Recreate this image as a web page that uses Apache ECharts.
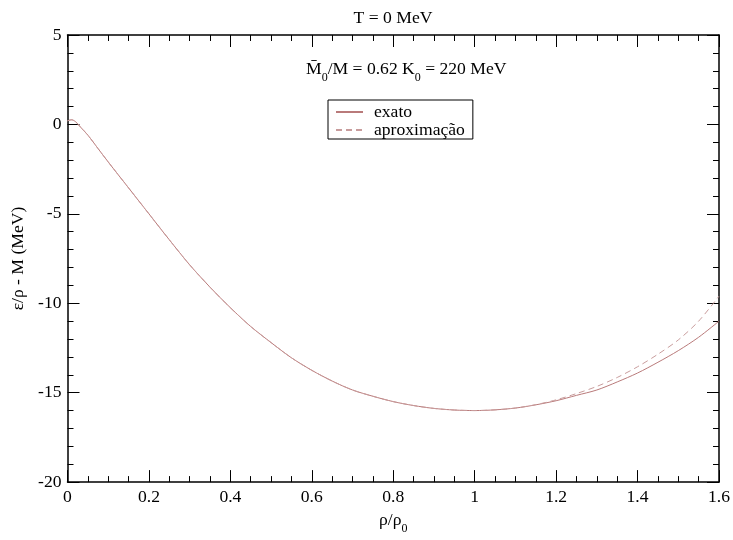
<!DOCTYPE html>
<html>
<head>
<meta charset="utf-8">
<script src="https://cdn.jsdelivr.net/npm/echarts@6/dist/echarts.min.js"></script>
<style>html,body{margin:0;padding:0;background:#fff}#c{width:733px;height:540px}</style>
</head>
<body>
<div id="c"></div>
<script>
const xs =     [0, 0.01, 0.02, 0.03, 0.05, 0.075, 0.1, 0.15, 0.2, 0.25, 0.3, 0.35, 0.4, 0.45, 0.5, 0.55, 0.6, 0.65, 0.7, 0.75, 0.8, 0.85, 0.9, 0.95, 1.0, 1.05, 1.1, 1.15, 1.2, 1.25, 1.3, 1.35, 1.4, 1.45, 1.5, 1.55, 1.6];
const exato =  [0.2, 0.26, 0.15, -0.1, -0.6, -1.35, -2.1, -3.55, -5.0, -6.45, -7.85, -9.1, -10.25, -11.3, -12.2, -13.05, -13.75, -14.35, -14.85, -15.2, -15.5, -15.72, -15.88, -15.97, -16.0, -15.96, -15.86, -15.68, -15.45, -15.15, -14.85, -14.4, -13.9, -13.3, -12.65, -11.9, -11.0];
const aprox =  [0.2, 0.26, 0.15, -0.1, -0.6, -1.35, -2.1, -3.55, -5.0, -6.45, -7.85, -9.1, -10.25, -11.3, -12.2, -13.05, -13.75, -14.35, -14.85, -15.2, -15.5, -15.72, -15.88, -15.97, -16.0, -15.96, -15.86, -15.67, -15.4, -15.05, -14.65, -14.15, -13.55, -12.85, -12.05, -11.0, -9.6];
const seriesNames = ['exato', 'aproximação'];
const xTicks = {min: 0, max: 1.6, interval: 0.2};
const yTicks = {min: -20, max: 5, interval: 5};

const F = 'Liberation Serif';
const FS = 17.6;
const chart = echarts.init(document.getElementById('c'), null, {renderer: 'canvas'});
const axisCommon = {
  axisLine: {show: true, onZero: false, lineStyle: {color: '#000', width: 1.5}},
  axisTick: {show: true, inside: true, length: 12, lineStyle: {color: '#000', width: 1}},
  minorTick: {show: true, length: 6, lineStyle: {color: '#000', width: 1}},
  splitLine: {show: false},
  minorSplitLine: {show: false}
};
function xAx(pos, labels) {
  return Object.assign({}, axisCommon, {
    type: 'value', position: pos, min: xTicks.min, max: xTicks.max, interval: xTicks.interval,
    minorTick: Object.assign({}, axisCommon.minorTick, {splitNumber: 4}),
    axisLabel: {show: labels, fontFamily: F, fontSize: FS, color: '#000', margin: 6},
    name: labels ? 'ρ/ρ{s|0}' : '', nameLocation: 'middle', nameGap: 22,
    nameTextStyle: {fontFamily: F, fontSize: FS, color: '#000', rich: {s: {fontFamily: F, fontSize: 12, verticalAlign: 'bottom', lineHeight: 8, padding: [0,0,-6,0]}}}
  });
}
function yAx(pos, labels) {
  return Object.assign({}, axisCommon, {
    type: 'value', position: pos, min: yTicks.min, max: yTicks.max, interval: yTicks.interval,
    minorTick: Object.assign({}, axisCommon.minorTick, {splitNumber: 5}),
    axisLabel: {show: labels, fontFamily: F, fontSize: FS, color: '#000', margin: 6},
    name: labels ? 'ε/ρ - M (MeV)' : '', nameLocation: 'middle', nameGap: 40,
    nameTextStyle: {fontFamily: F, fontSize: FS, color: '#000'}
  });
}
const option = {
  animation: false,
  backgroundColor: '#fff',
  grid: {left: 67.5, right: 12, top: 35, bottom: 48},
  xAxis: [xAx('bottom', true), xAx('top', false)],
  yAxis: [yAx('left', true), yAx('right', false)],
  legend: {
    orient: 'vertical', left: 328, top: 100,
    data: seriesNames,
    borderColor: '#000', borderWidth: 1, borderRadius: 0,
    padding: [3, 8, 0, 7], itemGap: 0, itemWidth: 27, itemHeight: 14,
    itemStyle: {opacity: 0},
    textStyle: {fontFamily: F, fontSize: FS, color: '#000', lineHeight: 18, padding: [0, 0, 0, 6]}
  },
  graphic: [
    {type: 'text', x: 393, y: 18, style: {text: 'T = 0 MeV', fontFamily: F, fontSize: FS, fill: '#000', align: 'center', verticalAlign: 'middle'}},
    {type: 'text', x: 306, y: 69, style: {
      text: 'M\u0304{s|0}/M = 0.62 K{s|0} = 220 MeV', fontFamily: F, fontSize: FS, fill: '#000', align: 'left', verticalAlign: 'middle',
      rich: {s: {fontFamily: F, fontSize: 12, verticalAlign: 'bottom', lineHeight: 8, padding: [0,0,-6,0]}}
    }}
  ],
  series: [
    {name: seriesNames[0], type: 'line', xAxisIndex: 0, yAxisIndex: 0, symbol: 'none', smooth: 0.3,
     data: xs.map((x, i) => [x, exato[i]]), lineStyle: {color: '#b97a7a', width: 1}, itemStyle: {color: '#b97a7a'}},
    {name: seriesNames[1], type: 'line', xAxisIndex: 0, yAxisIndex: 0, symbol: 'none', smooth: 0.3,
     data: xs.map((x, i) => [x, aprox[i]]), lineStyle: {color: '#c89c9c', width: 1, type: [6, 4]}, itemStyle: {color: '#c89c9c'}}
  ]
};
chart.setOption(option);
</script>
</body>
</html>
